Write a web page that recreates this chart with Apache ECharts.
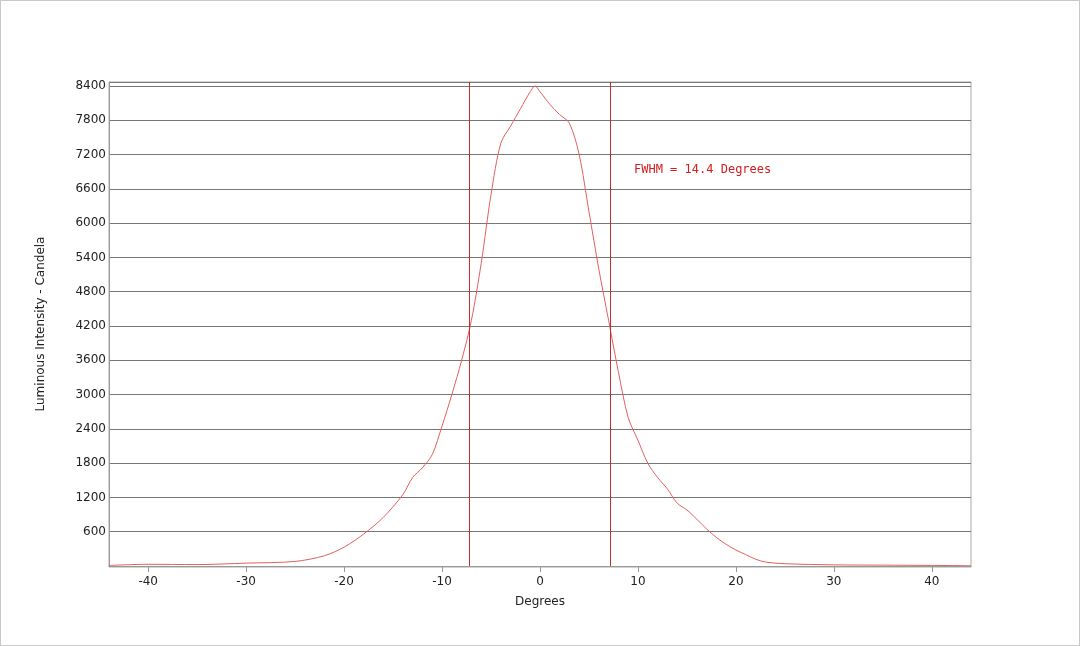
<!DOCTYPE html>
<html>
<head>
<meta charset="utf-8">
<script src="https://cdn.jsdelivr.net/npm/echarts@6/dist/echarts.min.js"></script>
<style>
  html, body { margin: 0; padding: 0; background: #fff; }
  #chart { width: 1078px; height: 644px; border: 1px solid #c8c8c8; }
</style>
</head>
<body>
<div id="chart"></div>
<script>
// angle (degrees) and luminous intensity (cd)
const degrees = [-44, -40, -35, -30, -25, -22, -20, -18, -16, -14, -13, -12, -11, -10, -9, -8, -7, -6, -5, -4, -3, -2, -1, -0.5, 0, 1, 2, 3, 4, 5, 6, 7, 8, 9, 10, 11, 12, 13, 14, 15, 16, 17, 18, 19, 20, 21, 22, 23, 25, 30, 35, 40, 44];
const candela = [10, 30, 25, 50, 80, 180, 330, 560, 850, 1250, 1550, 1720, 1950, 2450, 3000, 3600, 4300, 5300, 6500, 7400, 7700, 8000, 8300, 8400, 8300, 8080, 7900, 7750, 7200, 6200, 5200, 4300, 3400, 2600, 2200, 1800, 1550, 1350, 1100, 980, 820, 650, 500, 380, 280, 200, 120, 70, 40, 20, 15, 10, 5];
const xTicks = [-40, -30, -20, -10, 0, 10, 20, 30, 40];
const fwhmLines = [-7.2, 7.2];
const fwhmText = 'FWHM = 14.4 Degrees';

let chart = echarts.init(document.getElementById('chart'));
const font = 'DejaVu Sans';
chart.setOption({
    animation: false,
    grid: { left: 108, right: 108, top: 81, bottom: 79 },
    xAxis: {
        type: 'value',
        min: -44, max: 44,
        name: 'Degrees', nameLocation: 'middle', nameGap: 30,
        nameTextStyle: { fontFamily: font, fontSize: 12, color: '#222' },
        axisLine: { show: true, onZero: false, lineStyle: { color: '#999' } },
        axisTick: { show: true, customValues: xTicks, length: 6, lineStyle: { color: '#999' } },
        axisLabel: { customValues: xTicks, fontFamily: font, fontSize: 12, color: '#222', margin: 10 },
        splitLine: { show: false }
    },
    yAxis: {
        type: 'value',
        min: 0, max: 8470, interval: 600,
        name: 'Luminous Intensity - Candela', nameLocation: 'middle', nameGap: 62,
        nameTextStyle: { fontFamily: font, fontSize: 12, color: '#222' },
        axisLine: { show: true, onZero: false, lineStyle: { color: '#999' } },
        axisTick: { show: false },
        axisLabel: { fontFamily: font, fontSize: 12, color: '#222', margin: 3, showMinLabel: false, showMaxLabel: false,
                     formatter: v => String(v) },
        splitLine: { show: true, lineStyle: { color: '#777', width: 1 } }
    },
    graphic: [
        { type: 'rect', shape: { x: 108, y: 81, width: 862, height: 485 }, style: { fill: 'none', stroke: '#aaa' }, silent: true },
        { type: 'text', left: 633, top: 163, style: { text: fwhmText, font: '12px "DejaVu Sans Mono"', fill: '#d02020' } }
    ],
    series: [{
        type: 'line',
        data: degrees.map((d, i) => [d, candela[i]]),
        symbol: 'none',
        smooth: 0.3,
        lineStyle: { color: '#e06060', width: 1 },
        markLine: {
            symbol: 'none', silent: true,
            label: { show: false },
            lineStyle: { color: '#c03030', type: 'solid', width: 1 },
            data: fwhmLines.map(v => ({ xAxis: v, lineStyle: { color: '#c03030', type: 'solid', width: 1 } }))
        }
    }]
});
</script>
</body>
</html>
